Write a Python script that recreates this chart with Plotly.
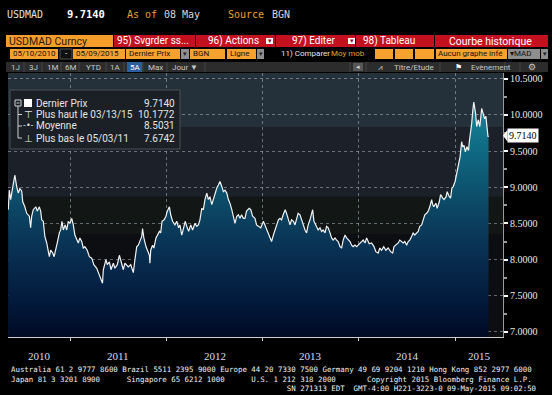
import plotly.graph_objects as go
import pandas as pd

# ---------------- data ----------------
start_date = "2010-05-10"
day_offsets = [
    0, 4, 9, 17, 25, 32, 38, 44, 51, 55, 63, 70, 80, 85, 89, 95, 105, 110, 118, 123,
    127, 133, 139, 146, 152, 156, 161, 169, 174, 181, 186, 194, 199, 204, 209, 216, 222, 228, 234, 241,
    247, 253, 260, 266, 272, 279, 285, 291, 300, 308, 317, 325, 336, 346, 352, 358, 361, 371, 376, 384,
    390, 399, 405, 414, 422, 430, 437, 443, 456, 465, 475, 481, 488, 494, 500, 507, 510, 515, 523, 528,
    536, 538, 541, 548, 553, 561, 566, 574, 579, 584, 592, 599, 604, 612, 617, 624, 633, 640, 647, 652,
    659, 665, 672, 678, 685, 693, 700, 709, 716, 722, 728, 735, 741, 747, 754, 760, 766, 773, 779, 785,
    792, 798, 804, 811, 817, 823, 830, 836, 842, 849, 855, 861, 868, 874, 880, 886, 893, 899, 905, 915,
    921, 928, 937, 943, 950, 959, 969, 975, 982, 988, 994, 1000, 1007, 1013, 1019, 1026, 1032, 1038, 1044, 1052,
    1057, 1064, 1070, 1076, 1083, 1089, 1095, 1101, 1108, 1114, 1120, 1127, 1133, 1139, 1146, 1152, 1156, 1161, 1169, 1177,
    1184, 1190, 1196, 1203, 1209, 1215, 1222, 1228, 1234, 1241, 1247, 1253, 1260, 1266, 1272, 1279, 1285, 1291, 1298, 1304,
    1310, 1317, 1323, 1329, 1336, 1342, 1348, 1355, 1361, 1371, 1380, 1389, 1396, 1405, 1411, 1418, 1426, 1434, 1443, 1452,
    1460, 1465, 1472, 1481, 1487, 1494, 1500, 1506, 1513, 1519, 1525, 1532, 1538, 1544, 1551, 1557, 1563, 1570, 1576, 1582,
    1589, 1595, 1601, 1608, 1612, 1616, 1624, 1629, 1637, 1642, 1650, 1655, 1663, 1667, 1675, 1680, 1685, 1690, 1697, 1703,
    1709, 1716, 1722, 1726, 1731, 1736, 1742, 1748, 1751, 1756, 1760, 1764, 1768, 1775, 1779, 1785, 1791, 1798, 1804, 1809,
    1814, 1819, 1822, 1824,
]
prices = [
    8.69, 8.96, 8.83, 9.01, 9.17, 9.01, 8.92, 8.98, 8.95, 8.80, 8.73, 8.64, 8.60, 8.44, 8.60, 8.69, 8.73, 8.67, 8.73, 8.67,
    8.55, 8.53, 8.32, 8.23, 8.13, 8.04, 8.13, 8.09, 8.04, 8.13, 8.23, 8.37, 8.41, 8.53, 8.41, 8.48, 8.41, 8.53, 8.50, 8.57,
    8.48, 8.34, 8.27, 8.23, 8.30, 8.25, 8.16, 8.18, 8.13, 8.04, 8.02, 7.93, 7.88, 7.79, 7.72, 7.6742, 7.86, 8.00, 7.93, 7.97,
    7.86, 7.95, 7.88, 7.93, 8.06, 7.95, 7.86, 7.95, 7.90, 7.93, 7.82, 8.00, 8.18, 8.20, 8.27, 8.32, 8.43, 8.30, 8.18, 8.13,
    8.06, 7.95, 8.13, 8.20, 8.16, 8.30, 8.34, 8.39, 8.37, 8.53, 8.55, 8.60, 8.67, 8.73, 8.62, 8.53, 8.48, 8.53, 8.44, 8.48,
    8.34, 8.44, 8.53, 8.46, 8.39, 8.48, 8.41, 8.50, 8.46, 8.48, 8.55, 8.71, 8.69, 8.83, 8.92, 8.83, 8.87, 8.76, 8.83, 8.92,
    8.99, 9.03, 9.08, 9.01, 8.94, 8.96, 8.92, 8.83, 8.78, 8.69, 8.60, 8.50, 8.60, 8.62, 8.57, 8.62, 8.57, 8.57, 8.67, 8.71,
    8.69, 8.60, 8.57, 8.48, 8.46, 8.44, 8.53, 8.48, 8.41, 8.37, 8.32, 8.25, 8.34, 8.41, 8.50, 8.55, 8.57, 8.55, 8.62, 8.69,
    8.64, 8.53, 8.48, 8.55, 8.53, 8.48, 8.55, 8.64, 8.62, 8.55, 8.50, 8.41, 8.37, 8.48, 8.55, 8.62, 8.69, 8.53, 8.46, 8.41,
    8.44, 8.39, 8.41, 8.37, 8.46, 8.44, 8.37, 8.30, 8.27, 8.30, 8.27, 8.25, 8.18, 8.16, 8.27, 8.34, 8.30, 8.27, 8.25, 8.20,
    8.18, 8.20, 8.18, 8.20, 8.23, 8.25, 8.27, 8.23, 8.30, 8.22, 8.23, 8.18, 8.11, 8.09, 8.16, 8.13, 8.18, 8.13, 8.16, 8.11,
    8.09, 8.18, 8.20, 8.23, 8.27, 8.25, 8.23, 8.25, 8.20, 8.25, 8.27, 8.32, 8.37, 8.34, 8.37, 8.39, 8.46, 8.48, 8.55, 8.62,
    8.64, 8.67, 8.73, 8.83, 8.76, 8.73, 8.78, 8.71, 8.80, 8.90, 8.85, 8.83, 8.87, 8.94, 8.87, 8.85, 8.99, 9.01, 9.08, 9.19,
    9.31, 9.42, 9.63, 9.56, 9.58, 9.49, 9.56, 9.51, 9.63, 9.75, 9.88, 10.05, 10.1772, 10.02, 9.84, 9.93, 9.84, 10.09, 10.02, 9.95,
    9.98, 9.79, 9.70, 9.714,
]
y_tick_values = [7.0, 7.5, 8.0, 8.5, 9.0, 9.5, 10.0, 10.5]
year_ticks = ["2011-01-01", "2012-01-01", "2013-01-01", "2014-01-01", "2015-01-01"]
year_labels = ["2010", "2011", "2012", "2013", "2014", "2015"]
legend_labels = ["Dernier Prix", "Plus haut le 03/13/15", "Moyenne", "Plus bas le 05/03/11"]
legend_values = ["9.7140", "10.1772", "8.5031", "7.6742"]
last_price = 9.7140

# ---------------- geometry helpers ----------------
W, H = 552, 395
ML, MR, MT, MB = 8, 49, 73, 58
PW, PH = W - ML - MR, H - MT - MB


def px(x):
    return (x - ML) / PW


def py(y):
    return 1 - (y - MT) / PH


shapes = []
annotations = []


def rect(x0, y0, x1, y1, color, line_color=None, layer="above"):
    shapes.append(dict(type="rect", xref="paper", yref="paper",
                       x0=px(x0), x1=px(x1), y0=py(y1), y1=py(y0),
                       fillcolor=color, layer=layer,
                       line=dict(width=1 if line_color else 0, color=line_color or color)))


def line(x0, y0, x1, y1, color, width=1):
    shapes.append(dict(type="line", xref="paper", yref="paper",
                       x0=px(x0), x1=px(x1), y0=py(y0), y1=py(y1),
                       line=dict(color=color, width=width)))


def txt(x, y, s, color, size, family="Roboto", anchor="left", weight="normal"):
    annotations.append(dict(xref="paper", yref="paper", x=px(x), y=py(y), text=s,
                            showarrow=False, xanchor=anchor, yanchor="middle",
                            borderpad=0, align="left",
                            font=dict(color=color, size=size, family=family, weight=weight)))


dates = pd.Timestamp(start_date) + pd.to_timedelta(day_offsets, unit="D")
x_start = pd.Timestamp(start_date) - pd.Timedelta(days=1)
x_end = pd.Timestamp("2015-07-02")

fig = go.Figure()
fig.add_trace(go.Scatter(
    x=dates, y=prices, mode="lines",
    line=dict(color="#f2f2f2", width=1.2),
    fill="tozeroy",
    fillgradient=dict(type="vertical", start=6.93, stop=10.25,
                      colorscale=[[0.0, "#000a24"], [0.15, "#031a3c"], [0.33, "#082d4f"],
                                  [0.48, "#0b3f5e"], [0.63, "#0d5470"], [0.79, "#0f6b84"],
                                  [1.0, "#1a8a9c"]]),
    hoverinfo="skip", showlegend=False,
))

# background bands in the plot area
for y0, y1, c in [(6.5, 8.35, "#0c0e11"), (8.35, 8.87, "#121716"),
                  (8.87, 9.83, "#1c2129"), (9.83, 11.0, "#25313a")]:
    shapes.append(dict(type="rect", xref="paper", yref="y", x0=0, x1=1, y0=y0, y1=y1,
                       fillcolor=c, line=dict(width=0), layer="below"))

# ---------------- header ----------------
txt(6, 14, "USDMAD", "#e0e0e0", 10, "DejaVu Sans Mono")
txt(66, 14, "9.7140", "#ffffff", 10.5, "DejaVu Sans Mono", weight="bold")
txt(126, 14, "As of", "#e8a030", 10, "DejaVu Sans Mono")
txt(163, 14, "08 May", "#d8d8d8", 10, "DejaVu Sans Mono")
txt(227, 14, "Source", "#e8a030", 10, "DejaVu Sans Mono")
txt(271, 14, "BGN", "#d8d8d8", 10, "DejaVu Sans Mono")

# row 2 : tabs
rect(6, 35, 113, 47, "#f59d2a")
txt(8, 41, "USDMAD Curncy", "#2a1a00", 10.5)
for x0, x1 in [(114, 195), (196, 275), (276, 355), (356, 434), (435, 548)]:
    rect(x0, 35, x1, 47, "#c3111f")
txt(116, 41, "95) Svgrder ss...", "#ffffff", 10)
txt(207, 41, "96) Actions", "#ffffff", 10)
rect(266, 38, 273, 44, "#ffffff")
txt(269.5, 41, "▾", "#8a0a14", 7, anchor="center")
txt(291, 41, "97) Editer", "#ffffff", 10)
rect(348, 38, 355, 44, "#ffffff")
txt(351.5, 41, "▾", "#8a0a14", 7, anchor="center")
txt(362, 41, "98) Tableau", "#ffffff", 10)
txt(448, 41, "Courbe historique", "#ffffff", 10.5)

# row 3 : selectors
for x0, x1 in [(10, 58), (73, 125), (126, 180), (190, 225), (227, 256),
               (375, 393), (395, 413), (415, 434), (436, 507)]:
    rect(x0, 49, x1, 59, "#f7a12e")
rect(60, 49, 72, 59, "#101010", "#505050")
for x0, x1 in [(181, 189), (257, 264), (508, 540), (541, 548)]:
    rect(x0, 49, x1, 59, "#8e8e8e")
txt(12, 54, "05/10/2010", "#111111", 8)
txt(66, 54, "-", "#ffffff", 8, anchor="center")
txt(75, 54, "05/09/2015", "#111111", 8)
txt(128, 54, "Dernier Prix", "#111111", 8)
txt(185, 54, "▾", "#222222", 7, anchor="center")
txt(192, 54, "BGN", "#111111", 8)
txt(229, 54, "Ligne", "#111111", 8)
txt(260.5, 54, "▾", "#222222", 7, anchor="center")
txt(280, 54, "11) Comparer", "#e6e6e6", 8)
txt(330, 54, "Moy mob", "#e8a030", 8)
txt(437, 54, "Aucun graphe infé", "#111111", 8)
txt(509, 54, "▾MAD", "#111111", 8)
txt(544.5, 54, "▾", "#222222", 7, anchor="center")

# row 4 : toolbar
rect(6, 62, 548, 72, "#2c2c2c")
rect(127, 62, 142, 72, "#2b5f98")
for xs in [24, 42, 61, 79, 106, 124, 143, 167, 205, 350, 366, 440, 505, 520]:
    line(xs, 62, xs, 72, "#454545")
for lab, xc in [("1J", 15), ("3J", 33), ("1M", 52), ("6M", 70), ("YTD", 93),
                ("1A", 115), ("Max", 155), ("Jour ▼", 185)]:
    txt(xc, 67, lab, "#c8c8c8", 8, anchor="center")
txt(134.5, 67, "5A", "#ffffff", 8, anchor="center")
rect(353, 63, 363, 71, "#575757")
txt(358, 67, "◂", "#cfcfcf", 7, anchor="center")
txt(380, 67, "⩘", "#cfcfcf", 8, "DejaVu Sans", anchor="center")
txt(414, 67, "Titre/Etude", "#c8c8c8", 8, anchor="center")
txt(458, 67, "⚑", "#ffffff", 8, "DejaVu Sans", anchor="center")
txt(491, 67, "Evènement", "#c8c8c8", 8, anchor="center")
txt(532, 67, "⚙", "#c8c8c8", 9, "DejaVu Sans", anchor="center")

# ---------------- legend box ----------------
rect(10, 90, 180, 149, "#1b2026", "#4a4f55")
row_y = [103, 114.5, 126, 138]
rect(15, 100, 21, 106, "#1b2026", "#d0d0d0")
line(16.5, 103, 19.5, 103, "#d0d0d0")
rect(24, 99, 32, 107, "#ffffff")
line(18, 106, 18, 138, "#d0d0d0")
for yy in row_y[1:]:
    line(18, yy, 22, yy, "#d0d0d0")
txt(28, row_y[1], "⊤", "#e0e0e0", 10, "DejaVu Sans", anchor="center")
txt(28, row_y[2], "-•-", "#e0e0e0", 8, "DejaVu Sans", anchor="center")
txt(28, row_y[3], "⊥", "#e0e0e0", 10, "DejaVu Sans", anchor="center")
for lab, val, yy in zip(legend_labels, legend_values, row_y):
    txt(35, yy, lab, "#e4e4e4", 10)
    txt(176, yy, val, "#e4e4e4", 10, anchor="right")

# ---------------- last price tag ----------------
shapes.append(dict(type="path", xref="paper", yref="y",
                   path=f"M {px(503)} {last_price} L {px(507.5)} {last_price + 0.08} "
                        f"L {px(507.5)} {last_price - 0.08} Z",
                   fillcolor="#ffffff", line=dict(width=0), layer="above"))
annotations.append(dict(xref="paper", yref="y", x=px(507), y=last_price,
                        text=f"{last_price:.4f}", showarrow=False, xanchor="left",
                        yanchor="middle", bgcolor="#ffffff", borderpad=1,
                        font=dict(color="#000000", size=10, family="Liberation Serif")))

# ---------------- year labels ----------------
bounds = [x_start] + [pd.Timestamp(d) for d in year_ticks] + [x_end]
for lab, a, b in zip(year_labels, bounds[:-1], bounds[1:]):
    annotations.append(dict(xref="x", yref="paper", x=a + (b - a) / 2, y=py(356),
                            text=lab, showarrow=False, xanchor="center", yanchor="middle",
                            font=dict(color="#d8def2", size=11, family="Liberation Serif")))

# ---------------- footer (one monospace block) ----------------
NB = "\u00a0"


def sp(n):
    return NB * n


footer_lines = [
    "Australia 61 2 9777 8600 Brazil 5511 2395 9000 Europe 44 20 7330 7500 "
    "Germany 49 69 9204 1210 Hong Kong 852 2977 6000",
    "Japan 81 3 3201 8900" + sp(6) + "Singapore 65 6212 1000" + sp(6)
    + "U.S. 1 212 318 2000" + sp(7) + "Copyright 2015 Bloomberg Finance L.P.",
    sp(62) + "SN 271313 EDT  GMT-4:00 H221-3223-0 09-May-2015 09:02:50",
]
footer_text = "<br>".join(l.replace(" ", NB) for l in footer_lines)
annotations.append(dict(xref="paper", yref="paper", x=px(10), y=py(364), text=footer_text,
                        showarrow=False, xanchor="left", yanchor="top", align="left",
                        borderpad=0,
                        font=dict(color="#f0f0f0", size=7.4, family="DejaVu Sans Mono")))

fig.update_layout(
    width=W, height=H, autosize=False,
    margin=dict(l=ML, r=MR, t=MT, b=MB, pad=0),
    paper_bgcolor="#000000", plot_bgcolor="#0c0e11",
    showlegend=False, hovermode=False,
    shapes=shapes, annotations=annotations,
    xaxis=dict(type="date", range=[x_start, x_end], tickvals=year_ticks,
               showticklabels=False, ticks="outside", ticklen=3, tickcolor="#cccccc",
               showline=True, linecolor="#cfcfcf", linewidth=1,
               showgrid=True, gridcolor="rgba(170,180,195,0.55)", griddash="dot", gridwidth=1,
               zeroline=False),
    yaxis=dict(range=[6.93, 10.58], side="right", tickvals=y_tick_values,
               tickformat=".4f", ticks="outside", ticklen=4, tickwidth=2, tickcolor="#ffffff",
               tickfont=dict(color="#e8e8e8", size=10, family="Liberation Serif"),
               showline=True, linecolor="#9a9a9a", linewidth=1,
               showgrid=True, gridcolor="rgba(170,180,195,0.55)", griddash="dot", gridwidth=1,
               zeroline=False,
               minor=dict(dtick=0.25, tick0=7.0, ticks="outside", ticklen=3,
                          tickcolor="#9a9a9a", showgrid=False)),
)

fig.write_html("out.html", config={"displayModeBar": False},
               post_script="document.body.style.margin='0';"
                           "document.body.style.overflow='hidden';")
